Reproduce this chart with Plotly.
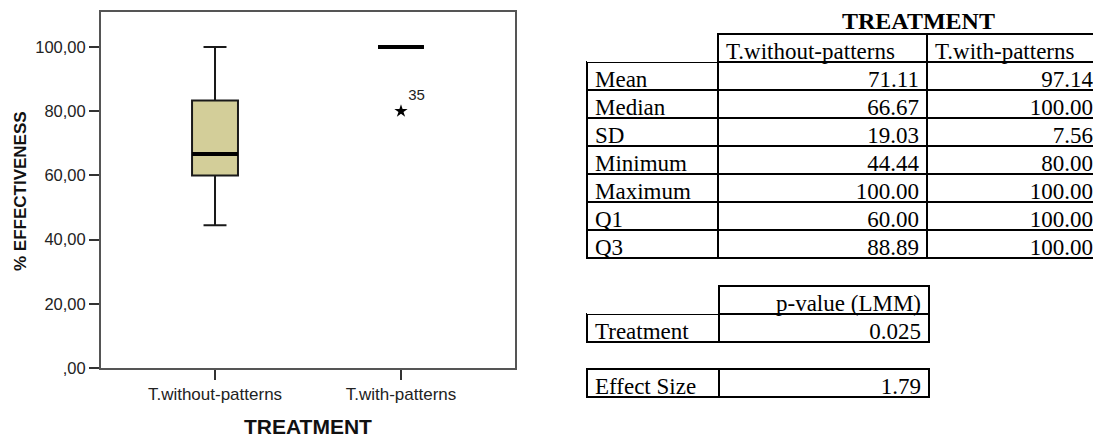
import plotly.graph_objects as go

# the page adds an 8px body margin, so the figure is 8px smaller each way
W, H = 1093, 432
OFF = 8

# box plot data (SPSS Tukey hinges)
groups = ["T.without-patterns", "T.with-patterns"]
box_min = [44.44, 100.0]
box_q1 = [60.0, 100.0]
box_median = [66.67, 100.0]
box_q3 = [83.33, 100.0]
box_max = [100.0, 100.0]
outlier_group = ["T.with-patterns"]
outlier_value = [80.0]
outlier_case = ["35"]

y_ticks = [0, 20, 40, 60, 80, 100]
y_ticktext = [",00", "20,00", "40,00", "60,00", "80,00", "100,00"]

# summary table
stat_names = ["Mean", "Median", "SD", "Minimum", "Maximum", "Q1", "Q3"]
without_patterns = ["71.11", "66.67", "19.03", "44.44", "100.00", "60.00", "88.89"]
with_patterns = ["97.14", "100.00", "7.56", "80.00", "100.00", "100.00", "100.00"]

lmm_rows = ["Treatment"]
lmm_pvalues = ["0.025"]
effect_label = "Effect Size"
effect_size = "1.79"


def px(x):
    return (x - OFF) / W


def py(y):
    return 1 - (y - OFF) / H


fig = go.Figure()

fig.add_trace(go.Box(
    x=groups, q1=box_q1, median=box_median, q3=box_q3,
    lowerfence=box_min, upperfence=box_max,
    fillcolor="#d3ce99", line=dict(color="#1a1a1a", width=2),
    width=0.247, whiskerwidth=0.5, boxpoints=False,
    hoverinfo="skip", showlegend=False,
))
# thick median bars
fig.add_trace(go.Box(
    x=groups, q1=box_median, median=box_median, q3=box_median,
    lowerfence=box_median, upperfence=box_median,
    fillcolor="rgba(0,0,0,0)", line=dict(color="black", width=4),
    width=0.247, whiskerwidth=0, boxpoints=False,
    hoverinfo="skip", showlegend=False,
))
fig.add_trace(go.Scatter(
    x=outlier_group, y=outlier_value, mode="markers+text",
    text=outlier_case, textposition="top right",
    textfont=dict(family="Liberation Sans", size=15, color="#222"),
    marker=dict(symbol="star", size=10, color="black"),
    showlegend=False,
))

serif = "Liberation Serif"
no_line = "rgba(0,0,0,0)"
tfont = dict(family=serif, size=23, color="black")

fig.add_trace(go.Table(
    domain=dict(x=[px(587), 1.0], y=[py(262), py(34)]),
    columnwidth=[131, 209, 174],
    header=dict(
        values=["", "T.without-patterns", "T.with-patterns"],
        align=["left", "left", "left"],
        height=28, fill_color="white",
        line=dict(color=[no_line, "black", "black"], width=2),
        font=tfont,
    ),
    cells=dict(
        values=[stat_names, without_patterns, with_patterns],
        align=["left", "right", "right"],
        height=28, fill_color="white",
        line=dict(color="black", width=2),
        font=tfont,
    ),
))

fig.add_trace(go.Table(
    domain=dict(x=[px(587), px(929)], y=[py(345), py(286)]),
    columnwidth=[132, 210],
    header=dict(
        values=["", "p-value (LMM)"],
        align=["left", "right"],
        height=28, fill_color="white",
        line=dict(color=[no_line, "black"], width=2),
        font=tfont,
    ),
    cells=dict(
        values=[lmm_rows, lmm_pvalues],
        align=["left", "right"],
        height=28, fill_color="white",
        line=dict(color="black", width=2),
        font=tfont,
    ),
))

fig.add_trace(go.Table(
    domain=dict(x=[px(587), px(929)], y=[py(400), py(369)]),
    columnwidth=[132, 210],
    header=dict(
        values=[effect_label, effect_size],
        align=["left", "right"],
        height=28, fill_color="white",
        line=dict(color="black", width=2),
        font=tfont,
    ),
))

fig.update_layout(
    width=W, height=H,
    margin=dict(l=0, r=0, t=0, b=0),
    paper_bgcolor="white", plot_bgcolor="white",
    boxmode="overlay",
    xaxis=dict(
        domain=[px(101), px(515)], range=[-0.613, 1.613],
        showline=True, mirror=True, linecolor="#555", linewidth=2,
        ticks="outside", ticklen=10, tickwidth=2, tickcolor="#333",
        tickfont=dict(family="Liberation Sans", size=17, color="#222"),
        showgrid=False, zeroline=False, automargin=False,
    ),
    yaxis=dict(
        domain=[py(368), py(12)], range=[0, 110.9],
        tickvals=y_ticks, ticktext=y_ticktext,
        showline=True, mirror=True, linecolor="#555", linewidth=2,
        ticks="outside", ticklen=10, tickwidth=2, tickcolor="#333",
        tickfont=dict(family="Liberation Sans", size=16.5, color="#222"),
        showgrid=False, zeroline=False, automargin=False,
    ),
    annotations=[
        dict(text="<b>TREATMENT</b>", x=px(308), y=0, xref="paper", yref="paper",
             xanchor="center", yanchor="bottom", showarrow=False,
             font=dict(family="Liberation Sans", size=21, color="#111")),
        dict(text="<b>% EFFECTIVENESS</b>", x=px(20), y=py(191), xref="paper", yref="paper",
             xanchor="center", yanchor="middle", textangle=-90, showarrow=False,
             font=dict(family="Liberation Sans", size=17, color="#111")),
        dict(text="<b>TREATMENT</b>", x=px(918), y=py(21), xref="paper", yref="paper",
             xanchor="center", yanchor="middle", showarrow=False,
             font=dict(family=serif, size=24, color="black")),
    ],
)

fig.write_html("out.html")
